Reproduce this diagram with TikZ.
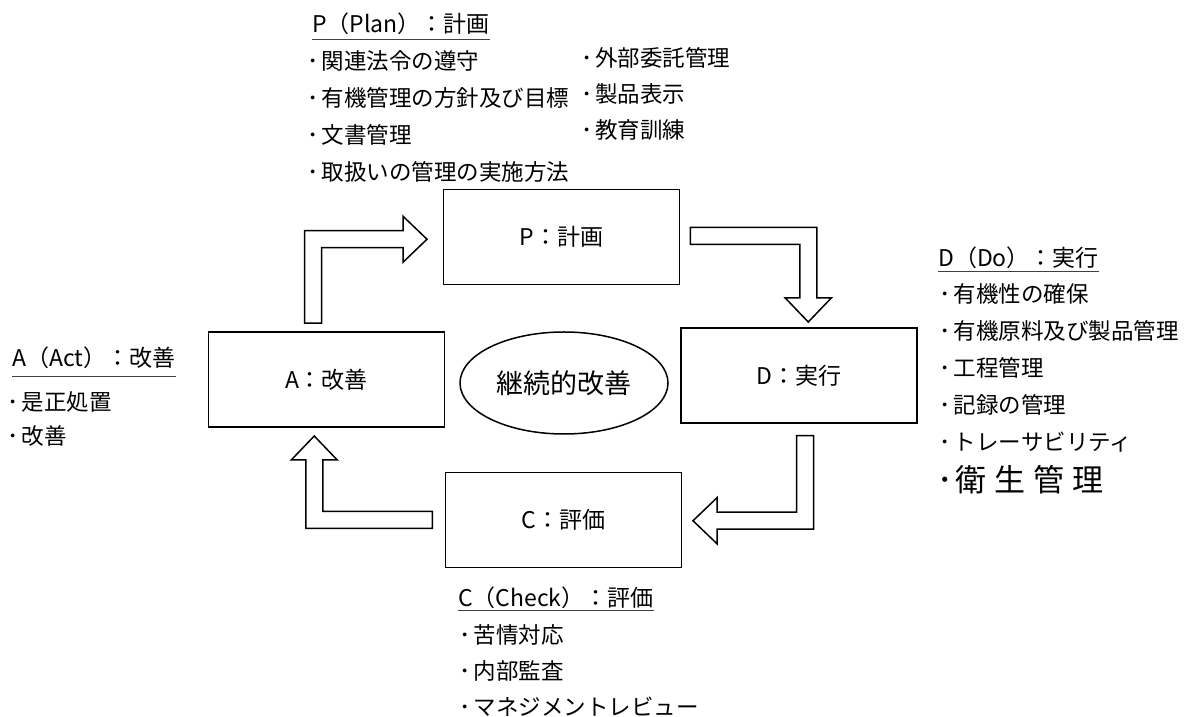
\documentclass[tikz,border=0pt]{standalone}
\usepackage{fontspec}
\setmainfont{Noto Sans CJK JP}
\usetikzlibrary{shapes.geometric,calc}

\tikzset{
    stage/.style={draw, line width=1.5pt, minimum width=236pt, minimum height=95pt,
        font=\fontsize{23}{23}\selectfont},
    core/.style={draw, ellipse, line width=1.5pt, minimum width=208pt, minimum height=102pt,
        font=\fontsize{27}{27}\selectfont},
    heading/.style={anchor=base west, inner sep=0pt, font=\fontsize{23}{23}\selectfont},
    item/.style={anchor=west, inner sep=0pt, font=\fontsize{22.5}{22.5}\selectfont,
        execute at begin node={･\kern3pt}},
    bigitem/.style={item, font=\fontsize{31}{31}\selectfont},
    uline/.style={line width=1pt, black!75},
    pics/turnarrow/.style 2 args={code={
        \draw[line width=1.5pt, fill=white]
            (-8.5,0) -- (-8.5,#1+8.5) -- (#2-24,#1+8.5) -- (#2-24,#1+23) -- (#2,#1)
            -- (#2-24,#1-23) -- (#2-24,#1-8.5) -- (8.5,#1-8.5) -- (8.5,0) -- cycle;
    }},
}

\begin{document}
\begin{tikzpicture}[x=1pt, y=1pt]
    \useasboundingbox (0,0) rectangle (1200,717);
    % Stages
    \node[stage] (P) at (561.5,480) {P：計画};
    \node[stage] (D) at (799,341.5) {D：実行};
    \node[stage] (C) at (563.5,197) {C：評価};
    \node[stage] (A) at (326.5,337.5) {A：改善};
    \node[core] (kaizen) at (564,334) {継続的改善};
    % Cycle arrows
    \pic at ($(A.north)+(-13.5,8)$) {turnarrow={84}{114}};
    \pic[rotate=-90] at ($(P.east)+(10,1)$) {turnarrow={118}{86}};
    \pic[rotate=180] at ($(D.south)+(6,-12)$) {turnarrow={85}{112}};
    \pic[rotate=90] at ($(C.west)+(-12.5,0)$) {turnarrow={118}{84}};
    % Plan
    \node[heading] (ph) at (312,684) {P（Plan）：計画};
    \foreach \txt [count=\i] in {関連法令の遵守, 有機管理の方針及び目標, 文書管理, 取扱いの管理の実施方法}
    {
        \node[item] (pl\i) at (307.5,693-37*\i) {\txt};
    }
    \foreach \txt [count=\i] in {外部委託管理, 製品表示, 教育訓練}
    {
        \node[item] (pr\i) at (581,695-36*\i) {\txt};
    }
    % Do
    \node[heading] (dh) at (938,450) {D（Do）：実行};
    \foreach \txt [count=\i] in {有機性の確保, 有機原料及び製品管理, 工程管理, 記録の管理, トレーサビリティ}
    {
        \node[item] (do\i) at (939.5,460-37*\i) {\txt};
    }
    \node[bigitem] (do6) at (937,237) {衛\kern8pt 生\kern8pt 管\kern8pt 理};
    % Act
    \node[heading] (ah) at (12,350) {A（Act）：改善};
    \foreach \txt [count=\i] in {是正処置, 改善}
    {
        \node[item] (ac\i) at (7.5,349-34*\i) {\txt};
    }
    % Check
    \node[heading] (ch) at (458,110) {C（Check）：評価};
    \foreach \txt [count=\i] in {苦情対応, 内部監査, マネジメントレビュー}
    {
        \node[item] (ck\i) at (459.5,118-36*\i) {\txt};
    }
    % Underlines
    \foreach \h/\d in {ph/7, dh/5, ah/10, ch/4}
    {
        \draw[uline] ($(\h.base west)+(0,-\d)$) -- ($(\h.base east)+(0,-\d)$);
    }
\end{tikzpicture}
\end{document}
